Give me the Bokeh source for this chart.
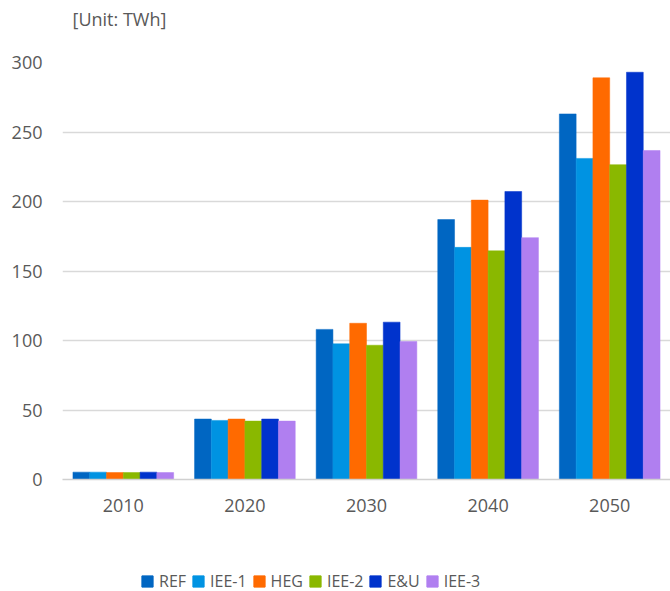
from bokeh.plotting import figure
from bokeh.models import ColumnDataSource, FactorRange, Range1d, Legend, LegendItem, Label
from bokeh.layouts import column
from bokeh.transform import dodge
from bokeh.embed import file_html
from bokeh.resources import INLINE

years = ["2010", "2020", "2030", "2040", "2050"]
series_names = ["REF", "IEE-1", "HEG", "IEE-2", "E&U", "IEE-3"]
ref = [5.3, 43.5, 108, 187, 263]
iee1 = [5.3, 42.5, 97.6, 167, 231]
heg = [5.0, 43.5, 112.4, 201, 289]
iee2 = [5.0, 42.0, 96.6, 164.5, 226.5]
eu = [5.3, 43.5, 113.2, 207.2, 293]
iee3 = [5.0, 42.0, 99.3, 174, 236.7]
colors = ["#0066c2", "#0093e2", "#ff6a00", "#8ab800", "#0033cc", "#b07ff0"]
y_ticks = [0, 50, 100, 150, 200, 250, 300]
unit_text = "[Unit: TWh]"

FONT = "Open Sans"
TXT = "#595959"
W = 670

# title strip
tt = figure(width=W, height=36, output_backend="svg", toolbar_location=None,
            x_range=Range1d(0, 1), y_range=Range1d(0, 1),
            min_border=0, x_axis_location=None, y_axis_location=None)
tt.outline_line_color = None
tt.grid.visible = False
tt.add_layout(Label(x=10, y=18, x_units="screen", y_units="screen", text=unit_text,
                    text_font=FONT, text_font_size="18px", text_color=TXT,
                    text_baseline="middle", text_align="left"))

src = ColumnDataSource(dict(year=years, REF=ref, IEE1=iee1, HEG=heg, IEE2=iee2, EU=eu, IEE3=iee3))
cols = ["REF", "IEE1", "HEG", "IEE2", "EU", "IEE3"]

p = figure(x_range=FactorRange(*years), y_range=Range1d(0, 300),
           width=W, height=509, output_backend="svg", toolbar_location=None,
           min_border_left=62, min_border_right=0, min_border_top=26, min_border_bottom=66)
p.outline_line_color = None
p.background_fill_color = "white"

bw = 0.138
for i, (c, name, col) in enumerate(zip(cols, series_names, colors)):
    off = (i - 2.5) * bw
    p.vbar(x=dodge("year", off, range=p.x_range), top=c, width=bw, bottom=0,
           source=src, fill_color=col, line_color=col, line_width=0.5)

p.xgrid.grid_line_color = None
p.ygrid.grid_line_color = "#d9d9d9"
p.ygrid.grid_line_width = 1.5
p.yaxis.ticker = y_ticks
p.yaxis.axis_line_color = None
p.yaxis.major_tick_line_color = None
p.yaxis.minor_tick_line_color = None
p.yaxis.major_label_standoff = 14
p.yaxis.major_label_text_font = FONT
p.yaxis.major_label_text_font_size = "18px"
p.yaxis.major_label_text_color = TXT

p.xaxis.axis_line_color = "#d0d0d0"
p.xaxis.axis_line_width = 1.5
p.xaxis.major_tick_line_color = None
p.xaxis.minor_tick_line_color = None
p.xaxis.major_label_standoff = 13
p.xaxis.major_label_text_font = FONT
p.xaxis.major_label_text_font_size = "18px"
p.xaxis.major_label_text_color = TXT

# legend strip
lg = figure(width=W, height=46, output_backend="svg", toolbar_location=None,
            x_range=Range1d(0, 1), y_range=Range1d(0, 1),
            min_border=0, x_axis_location=None, y_axis_location=None)
lg.outline_line_color = None
lg.grid.visible = False
items = []
for name, col in zip(series_names, colors):
    r = lg.vbar(x=[5], top=[5], bottom=[4], width=0.1, fill_color=col, line_color=col)
    items.append(LegendItem(label=name, renderers=[r]))
legend = Legend(items=items, orientation="horizontal", location=(78, -1))
legend.border_line_color = None
legend.background_fill_alpha = 0
legend.padding = 0
legend.margin = 0
legend.spacing = 5
legend.label_standoff = 5
legend.glyph_width = 14
legend.glyph_height = 14
legend.label_text_font = FONT
legend.label_text_font_size = "16px"
legend.label_text_color = TXT
lg.add_layout(legend, "center")

layout = column(tt, p, lg, spacing=0)
open("out.html", "w").write(file_html(layout, INLINE))
